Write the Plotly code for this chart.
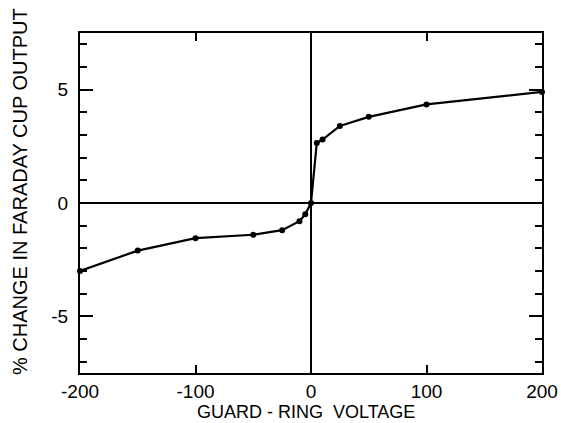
import plotly.graph_objects as go

# Guard-ring voltage (V) and % change in Faraday cup output
voltage = [-200, -150, -100, -50, -25, -10, -5, 0, 5, 10, 25, 50, 100, 200]
pct_change = [-3.0, -2.1, -1.55, -1.4, -1.2, -0.8, -0.5, 0.0, 2.65, 2.8, 3.4, 3.8, 4.35, 4.9]

x_ticks = [-200, -100, 0, 100, 200]
x_tick_text = ["-200", "-100", "0", "100", "200"]
y_ticks = [-5, 0, 5]
y_tick_text = ["-5", "0", "5"]

x_title = "GUARD - RING  VOLTAGE"
y_title = "% CHANGE IN FARADAY CUP OUTPUT"

font_family = "Liberation Sans, Arial, sans-serif"

fig = go.Figure()
fig.add_trace(go.Scatter(
    x=voltage, y=pct_change,
    mode="lines+markers",
    line=dict(color="black", width=2.2),
    marker=dict(color="black", size=6),
    cliponaxis=False,
    showlegend=False,
))

axis_common = dict(
    showline=True, linecolor="black", linewidth=2, mirror="allticks",
    ticks="inside", tickcolor="black", tickwidth=2,
    showgrid=False, zeroline=True, zerolinecolor="black", zerolinewidth=1.5,
    tickfont=dict(family=font_family, size=19, color="black"),
    automargin=False, ticklabeloverflow="allow",
)

fig.update_xaxes(
    range=[-200, 200], tickmode="array", tickvals=x_ticks, ticktext=x_tick_text,
    ticklen=8, ticklabelstandoff=0,
    **axis_common,
)
fig.update_yaxes(
    range=[-7.5, 7.5], tickmode="array", tickvals=y_ticks, ticktext=y_tick_text,
    ticklen=13, ticklabelstandoff=6,
    minor=dict(ticks="inside", dtick=1, tick0=0, ticklen=7, tickwidth=1.5, tickcolor="black"),
    **axis_common,
)

# Axis titles placed as paper-anchored annotations
fig.add_annotation(
    text=x_title, xref="paper", yref="paper", x=0.489, y=-0.115,
    xanchor="center", yanchor="middle", showarrow=False,
    font=dict(family=font_family, size=18, color="black"),
)
fig.add_annotation(
    text=y_title, xref="paper", yref="paper", x=-0.13, y=0.535,
    xanchor="center", yanchor="middle", textangle=-90, showarrow=False,
    font=dict(family=font_family, size=20, color="black"),
)

fig.update_layout(
    width=561, height=423,
    margin=dict(l=80, r=19, t=33, b=50),
    paper_bgcolor="white", plot_bgcolor="white",
)

fig.write_html("out.html")
